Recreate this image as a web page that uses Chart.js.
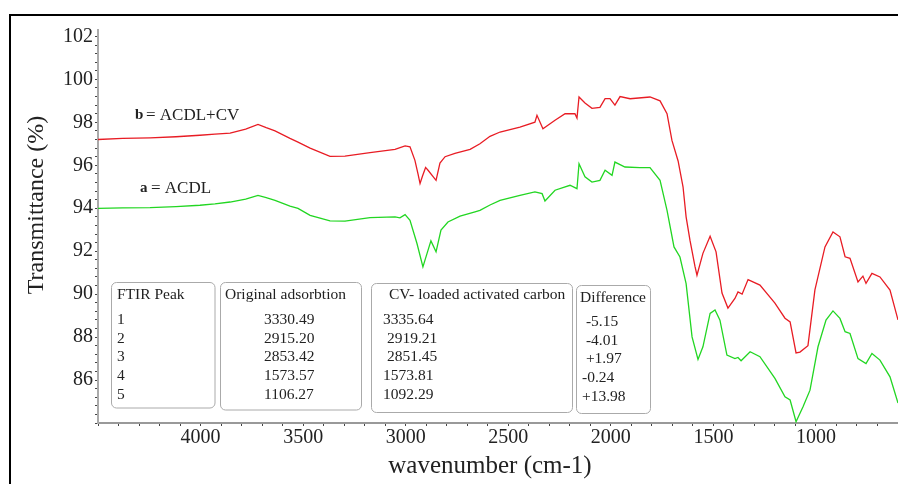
<!DOCTYPE html>
<html>
<head>
<meta charset="utf-8">
<script src="https://cdn.jsdelivr.net/npm/chart.js@4.4.0/dist/chart.umd.min.js"></script>
<style>
  body { margin: 0; background: #fff; overflow: hidden; }
  #wrap { position: relative; width: 898px; height: 484px; }
  #frame { position: absolute; left: 9px; top: 14px; width: 1000px; height: 1000px; border: 2px solid #000; pointer-events: none; }
  canvas { position: absolute; left: 0; top: 0; }
</style>
</head>
<body>
<div id="wrap">
  <canvas id="myChart" width="898" height="484"></canvas>
  <div id="frame"></div>
</div>
<script>
// b = ACDL+CV (red)
const wavenumberB = [4500, 4380, 4246, 4120, 4003, 3930, 3856, 3780, 3720, 3680, 3637, 3564, 3525, 3466, 3369, 3296, 3174, 3052, 3003, 2979, 2955, 2940, 2930, 2918, 2903, 2891, 2852, 2833, 2808, 2760, 2686, 2638, 2589, 2540, 2443, 2370, 2360, 2331, 2272, 2223, 2175, 2165, 2155, 2126, 2092, 2053, 2028, 2004, 1980, 1955, 1906, 1809, 1760, 1726, 1702, 1672, 1648, 1633, 1614, 1590, 1580, 1551, 1516, 1487, 1458, 1429, 1395, 1380, 1360, 1331, 1273, 1200, 1151, 1126, 1097, 1078, 1039, 1005, 956, 917, 883, 858, 834, 795, 771, 756, 727, 688, 639, 600];
const transmittanceB = [97.2, 97.25, 97.28, 97.33, 97.4, 97.45, 97.5, 97.68, 97.9, 97.75, 97.6, 97.25, 97.08, 96.8, 96.42, 96.43, 96.59, 96.74, 96.9, 96.86, 96.23, 95.6, 95.15, 95.5, 95.9, 95.77, 95.3, 96.1, 96.4, 96.56, 96.74, 97.0, 97.35, 97.55, 97.78, 98.01, 98.33, 97.7, 98.1, 98.4, 98.4, 98.2, 99.18, 98.9, 98.65, 98.7, 99.1, 99.1, 98.8, 99.2, 99.1, 99.18, 99.0, 98.4, 97.16, 96.2, 95.0, 93.6, 92.5, 91.3, 90.88, 91.9, 92.7, 91.97, 90.05, 89.35, 89.8, 90.1, 90.0, 90.68, 90.42, 89.58, 88.88, 88.71, 87.26, 87.3, 87.6, 90.2, 92.2, 92.9, 92.67, 91.74, 91.67, 90.57, 90.84, 90.5, 90.97, 90.8, 90.19, 88.8];

// a = ACDL (green)
const wavenumberA = [4500, 4380, 4246, 4120, 4003, 3930, 3856, 3780, 3720, 3680, 3637, 3564, 3525, 3466, 3369, 3296, 3174, 3052, 3028, 3003, 2979, 2945, 2916, 2891, 2877, 2852, 2828, 2794, 2735, 2662, 2638, 2589, 2540, 2443, 2370, 2335, 2321, 2272, 2199, 2165, 2155, 2126, 2092, 2053, 2028, 1994, 1980, 1931, 1858, 1809, 1760, 1726, 1692, 1663, 1633, 1604, 1575, 1551, 1516, 1492, 1468, 1434, 1395, 1380, 1365, 1321, 1273, 1200, 1151, 1126, 1097, 1063, 1029, 990, 951, 917, 883, 858, 834, 795, 756, 727, 688, 639, 600];
const transmittanceA = [93.99, 94.02, 94.03, 94.08, 94.14, 94.2, 94.29, 94.42, 94.6, 94.5, 94.37, 94.1, 93.99, 93.67, 93.41, 93.4, 93.56, 93.6, 93.55, 93.7, 93.44, 92.36, 91.27, 92.05, 92.48, 91.97, 92.98, 93.36, 93.63, 93.83, 93.9, 94.15, 94.37, 94.6, 94.76, 94.68, 94.34, 94.84, 95.07, 94.91, 96.07, 95.46, 95.22, 95.3, 95.77, 95.53, 96.15, 95.92, 95.89, 95.89, 95.3, 93.9, 92.2, 91.73, 90.49, 88.01, 86.96, 87.55, 89.1, 89.26, 88.79, 87.16, 87.0, 87.05, 86.9, 87.32, 87.09, 86.08, 85.22, 85.07, 84.06, 84.76, 85.53, 87.55, 88.79, 89.22, 88.87, 88.25, 88.17, 87.0, 86.77, 87.24, 86.93, 86.15, 84.93];

const xTickLabels = [4000, 3500, 3000, 2500, 2000, 1500, 1000];
const yTickLabels = [86, 88, 90, 92, 94, 96, 98, 100, 102];

// inset table
const tableHeaders = ["FTIR Peak", "Original adsorbtion", "CV- loaded activated carbon", "Difference"];
const peakNumbers = ["1", "2", "3", "4", "5"];
const originalPeaks = ["3330.49", "2915.20", "2853.42", "1573.57", "1106.27"];
const loadedPeaks = ["3335.64", " 2919.21", " 2851.45", "1573.81", "1092.29"];
const peakDifferences = [" -5.15", " -4.01", " +1.97", "-0.24", "+13.98"];

const serif = '"Liberation Serif", "Times New Roman", serif';

function roundBox(ctx, x, y, w, h, r) {
  ctx.beginPath();
  ctx.moveTo(x + r, y);
  ctx.lineTo(x + w - r, y);
  ctx.arcTo(x + w, y, x + w, y + r, r);
  ctx.lineTo(x + w, y + h - r);
  ctx.arcTo(x + w, y + h, x + w - r, y + h, r);
  ctx.lineTo(x + r, y + h);
  ctx.arcTo(x, y + h, x, y + h - r, r);
  ctx.lineTo(x, y + r);
  ctx.arcTo(x, y, x + r, y, r);
  ctx.closePath();
  ctx.stroke();
}

const extras = {
  id: "extras",
  afterDraw(chart) {
    const ctx = chart.ctx;
    ctx.save();
    ctx.fillStyle = "#222";
    ctx.textBaseline = "middle";

    // axis titles
    ctx.font = "24px " + serif;
    ctx.textAlign = "center";
    ctx.save();
    ctx.translate(37, 205);
    ctx.rotate(-Math.PI / 2);
    ctx.fillText("Transmittance (%)", 0, 0);
    ctx.restore();
    ctx.font = "25px " + serif;
    ctx.fillText("wavenumber (cm-1)", 490, 466);

    // series labels
    ctx.textAlign = "left";
    ctx.font = "bold 15px " + serif;
    ctx.fillText("b", 135, 115);
    ctx.fillText("a", 140, 188);
    ctx.font = "17px " + serif;
    ctx.fillText("= ACDL+CV", 146, 116);
    ctx.fillText("= ACDL", 151, 189);

    // table boxes
    const boxes = [
      { x: 111.5, y: 282.5, w: 103.5, h: 125.5, hx: 117, vx: 117, col: peakNumbers },
      { x: 220.5, y: 282.5, w: 141, h: 127.5, hx: 225, vx: 264, col: originalPeaks },
      { x: 371.5, y: 283.5, w: 201, h: 129, hx: 389, vx: 383, col: loadedPeaks },
      { x: 576.5, y: 285.5, w: 74, h: 128, hx: 580, vx: 582, col: peakDifferences }
    ];
    const rowY = [320, 338.5, 357, 376, 395];
    ctx.strokeStyle = "#aaa";
    ctx.lineWidth = 1;
    boxes.forEach((b, i) => {
      roundBox(ctx, b.x, b.y, b.w, b.h, 5);
      ctx.font = "15.5px " + serif;
      ctx.fillText(tableHeaders[i], b.hx, i === 3 ? 298 : 295);
      b.col.forEach((v, j) => ctx.fillText(v, b.vx, rowY[j] + (i === 3 ? 2 : 0)));
    });
    ctx.restore();
  }
};

const ctx = document.getElementById("myChart").getContext("2d");
new Chart(ctx, {
  type: "line",
  data: {
    datasets: [
      {
        label: "b = ACDL+CV",
        data: wavenumberB.map((w, i) => ({ x: w, y: transmittanceB[i] })),
        borderColor: "rgb(232, 28, 36)",
        borderWidth: 1.3,
        pointRadius: 0,
        tension: 0,
      },
      {
        label: "a = ACDL",
        data: wavenumberA.map((w, i) => ({ x: w, y: transmittanceA[i] })),
        borderColor: "rgb(34, 214, 34)",
        borderWidth: 1.3,
        pointRadius: 0,
        tension: 0,
      },
    ],
  },
  options: {
    responsive: false,
    animation: false,
    layout: { padding: { top: 30, right: 0, left: 0, bottom: 0 } },
    plugins: { legend: { display: false }, tooltip: { enabled: false } },
    scales: {
      x: {
        type: "linear",
        reverse: true,
        min: 600,
        max: 4500,
        afterBuildTicks: (axis) => {
          const t = [];
          for (let v = 600; v <= 4500; v += 100) t.push({ value: v });
          axis.ticks = t;
        },
        afterFit: (axis) => { axis.height = 61; },
        ticks: {
          autoSkip: false,
          maxRotation: 0,
          padding: 0,
          color: "#222",
          font: { family: serif, size: 20 },
          callback: (v) => (xTickLabels.includes(v) ? String(v) : ""),
        },
        grid: { drawOnChartArea: false, tickLength: 3, color: "#444" },
        border: { color: "#999", width: 2 },
      },
      y: {
        min: 84,
        max: 102.3,
        afterBuildTicks: (axis) => {
          const t = [];
          for (let i = 0; i <= 45; i++) t.push({ value: Math.round((84 + i * 0.4) * 10) / 10 });
          axis.ticks = t;
        },
        afterFit: (axis) => { axis.width = 98; },
        ticks: {
          autoSkip: false,
          padding: 2,
          color: "#222",
          font: { family: serif, size: 20 },
          callback: (v) => (yTickLabels.includes(v) ? String(v) : ""),
        },
        grid: { drawOnChartArea: false, tickLength: 3, color: "#444" },
        border: { color: "#aaa", width: 2 },
      },
    },
  },
  plugins: [extras],
});
</script>
</body>
</html>
